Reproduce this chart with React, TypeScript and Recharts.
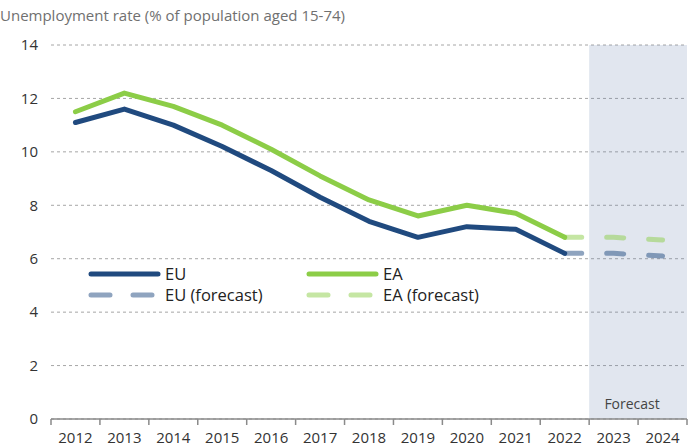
import {
  CartesianGrid,
  Legend,
  Line,
  LineChart,
  ReferenceArea,
  XAxis,
  YAxis,
} from "recharts";

const YEARS = [2012, 2013, 2014, 2015, 2016, 2017, 2018, 2019, 2020, 2021, 2022, 2023, 2024];
const EU = [11.1, 11.6, 11.0, 10.2, 9.3, 8.3, 7.4, 6.8, 7.2, 7.1, 6.2, null, null];
const EA = [11.5, 12.2, 11.7, 11.0, 10.1, 9.1, 8.2, 7.6, 8.0, 7.7, 6.8, null, null];
const EU_FORECAST = [null, null, null, null, null, null, null, null, null, null, 6.2, 6.2, 6.1];
const EA_FORECAST = [null, null, null, null, null, null, null, null, null, null, 6.8, 6.8, 6.7];
const Y_TICKS = [0, 2, 4, 6, 8, 10, 12, 14];

const W = 688;
const H = 448;
const LEFT = 51;
const RIGHT = 1;
const PLOT_W = W - LEFT - RIGHT;
const HALF = PLOT_W / YEARS.length / 2;

const EU_COLOR = "#204a7f";
const EA_COLOR = "#8ccd47";
const FONT = "'Open Sans', sans-serif";

const data = YEARS.map((year, i) => ({
  year,
  eu: EU[i],
  ea: EA[i],
  euF: EU_FORECAST[i],
  eaF: EA_FORECAST[i],
}));

function YearTick({ x, y, payload, index }: any) {
  const last = index === YEARS.length - 1;
  return (
    <g>
      <line x1={x - HALF} x2={x - HALF} y1={y} y2={y + 6} stroke="#8a8a8a" strokeWidth={1.5} />
      {last && <line x1={x + HALF} x2={x + HALF} y1={y} y2={y + 6} stroke="#8a8a8a" strokeWidth={1.5} />}
      <text x={x} y={y + 24} textAnchor="middle" fontSize={15} fill="#333" fontFamily={FONT}>
        {payload.value}
      </text>
    </g>
  );
}

function ChartLegend() {
  const items = [
    { label: "EU", color: EU_COLOR, dashed: false, x: 89, y: 274 },
    { label: "EA", color: EA_COLOR, dashed: false, x: 307, y: 274 },
    { label: "EU (forecast)", color: EU_COLOR, dashed: true, x: 89, y: 295 },
    { label: "EA (forecast)", color: EA_COLOR, dashed: true, x: 307, y: 295 },
  ];
  return (
    <svg width={W} height={H} style={{ position: "absolute", left: 0, top: 0 }}>
      {items.map((it) => (
        <g key={it.label}>
          <line
            x1={it.x + 2}
            x2={it.x + (it.dashed ? 63 : 69)}
            y1={it.y}
            y2={it.y}
            stroke={it.color}
            strokeOpacity={it.dashed ? 0.5 : 1}
            strokeWidth={5}
            strokeLinecap="round"
            strokeDasharray={it.dashed ? "19 23" : undefined}
          />
          <text x={it.x + 76} y={it.y + 6} fontSize={16.5} fill="#222" fontFamily={FONT}>
            {it.label}
          </text>
        </g>
      ))}
    </svg>
  );
}

export default function App() {
  return (
    <div style={{ position: "fixed", left: 0, top: 0, width: W, height: H, background: "#fff", fontFamily: FONT }}>
      <div style={{ position: "absolute", left: 0, top: 5, fontSize: 15, color: "#707070", whiteSpace: "nowrap" }}>
        Unemployment rate (% of population aged 15-74)
      </div>
      <LineChart width={W} height={H} data={data} margin={{ top: 45, right: RIGHT, bottom: 0, left: 0 }}>
        {/* semi-transparent so the dashed grid still shows through */}
        <ReferenceArea
          x1={2022.5}
          x2={2024.5}
          y1={0}
          y2={14}
          fill="#6982af"
          fillOpacity={0.2}
          stroke="none"
          label={{ value: "Forecast", position: "insideBottom", offset: 10, dx: -6, fill: "#444", fontSize: 14 }}
        />
        <CartesianGrid vertical={false} strokeDasharray="3 3" stroke="#a6a6a6" />
        <XAxis
          dataKey="year"
          type="number"
          domain={[2011.5, 2024.5]}
          ticks={YEARS}
          interval={0}
          tickLine={false}
          tickSize={0}
          tickMargin={0}
          axisLine={{ stroke: "#8a8a8a", strokeWidth: 1.5 }}
          tick={<YearTick />}
          height={29}
        />
        <YAxis
          domain={[0, 14]}
          ticks={Y_TICKS}
          width={LEFT}
          axisLine={false}
          tickLine={false}
          tickMargin={7}
          tick={{ fontSize: 15, fill: "#333" }}
        />
        <Line dataKey="ea" stroke={EA_COLOR} strokeWidth={5} dot={false} strokeLinecap="round" strokeLinejoin="round" isAnimationActive={false} />
        <Line dataKey="eu" stroke={EU_COLOR} strokeWidth={5} dot={false} strokeLinecap="round" strokeLinejoin="round" isAnimationActive={false} />
        <Line
          dataKey="eaF"
          stroke={EA_COLOR}
          strokeOpacity={0.5}
          strokeWidth={5}
          strokeDasharray="17 25"
          strokeLinecap="round"
          dot={false}
          isAnimationActive={false}
        />
        <Line
          dataKey="euF"
          stroke={EU_COLOR}
          strokeOpacity={0.5}
          strokeWidth={5}
          strokeDasharray="17 25"
          strokeLinecap="round"
          dot={false}
          isAnimationActive={false}
        />
        <Legend verticalAlign="middle" align="center" layout="horizontal" content={() => <ChartLegend />} wrapperStyle={{ position: "absolute", left: 0, top: 0, width: W, height: H }} />
      </LineChart>
    </div>
  );
}
